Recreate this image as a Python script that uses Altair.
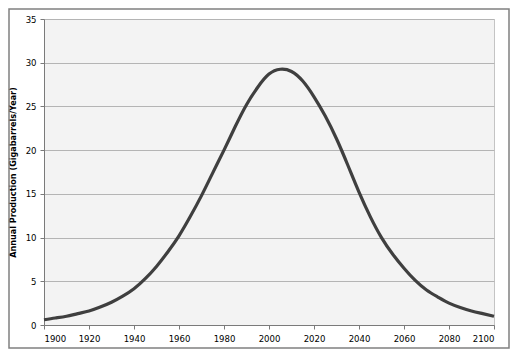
import altair as alt
import pandas as pd

years = list(range(1900, 2101, 5))
production = [0.6, 0.8, 1.0, 1.3, 1.6, 2.05, 2.6, 3.3, 4.15, 5.3,
              6.7, 8.35, 10.2, 12.4, 14.8, 17.4, 20.0, 22.7, 25.2, 27.2,
              28.7, 29.25, 29.0, 27.9, 26.1, 23.9, 21.3, 18.3, 15.2, 12.4,
              10.0, 8.1, 6.5, 5.1, 4.0, 3.2, 2.5, 2.0, 1.6, 1.3, 1.0]

df = pd.DataFrame({"year": years, "prod": production})

FONT = "DejaVu Sans Condensed, Liberation Sans, sans-serif"

line = alt.Chart(df).mark_line(
    color="#3f3f3f", strokeWidth=3.2, interpolate="natural"
).encode(
    x=alt.X("year:Q", scale=alt.Scale(domain=[1900, 2100], nice=False),
            axis=alt.Axis(values=list(range(1900, 2101, 20)), format="d",
                          title=None, grid=False, tickSize=4, labelPadding=4,
                          domainColor="#7a7a7a", tickColor="#7a7a7a",
                          labelFont=FONT, labelFontSize=9.5, labelColor="#000")),
    y=alt.Y("prod:Q", scale=alt.Scale(domain=[0, 35], nice=False),
            axis=alt.Axis(values=list(range(0, 36, 5)), title="Annual Production (Gigabarrels/Year)",
                          grid=True, gridColor="#b4b4b4", gridWidth=1,
                          tickSize=4, labelPadding=4,
                          domainColor="#7a7a7a", tickColor="#7a7a7a",
                          labelFont=FONT, labelFontSize=9.5, labelColor="#000",
                          titleFont=FONT, titleFontSize=9, titleFontWeight="bold",
                          titleColor="#000", titlePadding=8)),
)

border = alt.Chart(pd.DataFrame({"d": [0]})).mark_rect(
    fill="transparent", stroke="#808080", strokeWidth=1.5, clip=False
).encode(
    x=alt.value(-35), x2=alt.value(465), y=alt.value(-10), y2=alt.value(329)
)

chart = alt.layer(line, border).properties(
    width=450, height=306,
    autosize=alt.AutoSizeParams(type="none"),
    padding={"left": 36, "top": 11, "right": 17, "bottom": 26},
).configure_view(
    fill="#f3f3f3", stroke="#c4c4c4", strokeWidth=1
)

chart.save("out.html", embed_options={"renderer": "svg", "actions": False})
